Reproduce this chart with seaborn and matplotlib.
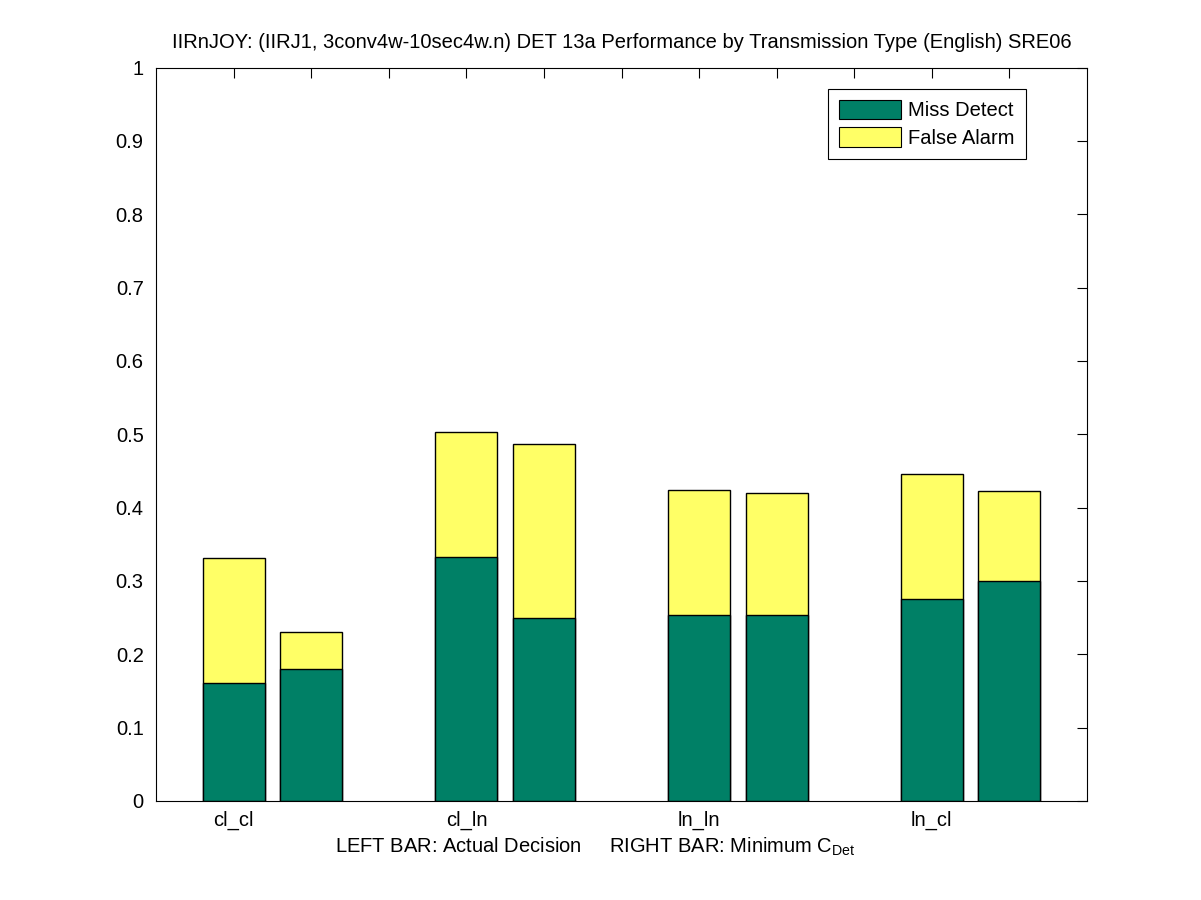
import numpy as np
import pandas as pd
import seaborn as sns
import matplotlib
matplotlib.use("Agg")
import matplotlib.pyplot as plt
from matplotlib.patches import Patch

# 伝送タイプごとの値 (左: Actual Decision, 右: Minimum C_Det)
categories = ["cl_cl", "cl_ln", "ln_ln", "ln_cl"]
miss_actual = [0.161, 0.332, 0.253, 0.275]
miss_min = [0.180, 0.249, 0.253, 0.300]
fa_actual = [0.170, 0.171, 0.171, 0.171]
fa_min = [0.051, 0.238, 0.167, 0.122]

GREEN = "#008066"
YELLOW = "#FFFF66"
FS = 14.5

sns.set_style("white")
plt.rcParams['font.family'] = ['Liberation Sans', 'DejaVu Sans']
plt.rcParams['mathtext.fontset'] = 'custom'
plt.rcParams['mathtext.rm'] = 'Liberation Sans'
plt.rcParams['text.color'] = 'black'

rows = []
for i, cat in enumerate(categories):
    base = 3 * i + 1
    rows.append([base, cat, miss_actual[i], fa_actual[i]])
    rows.append([base + 1, cat, miss_min[i], fa_min[i]])
df = pd.DataFrame(rows, columns=["pos", "Type", "Miss", "FA"])
df["Total"] = df["Miss"] + df["FA"]

fig = plt.figure(figsize=(12.01, 9), dpi=100)
ax = fig.add_axes([0.13, 0.11, 0.775, 0.815])

sns.barplot(x="pos", y="Total", data=df, native_scale=True, width=0.8,
            color=YELLOW, saturation=1, edgecolor="black", linewidth=1, ax=ax)
sns.barplot(x="pos", y="Miss", data=df, native_scale=True, width=0.8,
            color=GREEN, saturation=1, edgecolor="black", linewidth=1, ax=ax)

ax.set_xlim(0, 12)
ax.set_ylim(0, 1)
ax.set_axisbelow(True)

ticks = np.arange(1, 12)
labels = [""] * 11
for i, cat in enumerate(categories):
    labels[3 * i] = cat
ax.set_xticks(ticks)
ax.set_xticklabels(labels)
ax.set_yticks(np.arange(0, 1.01, 0.1))
ax.set_yticklabels(["0"] + [f"{v:.1f}" for v in np.arange(0.1, 0.95, 0.1)] + ["1"])
ax.tick_params(direction="in", length=7, width=0.8, top=True, right=True,
               labelsize=FS, colors="black")
ax.tick_params(axis="x", pad=7)
ax.tick_params(axis="y", pad=9)

for s in ax.spines.values():
    s.set_visible(True)
    s.set_color("black")
    s.set_linewidth(0.8)

ax.set_xlabel(r"LEFT BAR: Actual Decision     RIGHT BAR: Minimum C$_{\mathrm{Det}}$",
              fontsize=FS, color="black")
ax.xaxis.set_label_coords(0.472, -0.062, transform=ax.transAxes)
ax.xaxis.label.set_va("center")
ax.set_ylabel("")
ax.set_title("IIRnJOY: (IIRJ1, 3conv4w-10sec4w.n) DET 13a Performance by Transmission Type (English) SRE06",
             fontsize=FS, pad=14, color="black")

handles = [Patch(facecolor=GREEN, edgecolor="black", linewidth=0.8, label="Miss Detect"),
           Patch(facecolor=YELLOW, edgecolor="black", linewidth=0.8, label="False Alarm")]
leg = ax.legend(handles=handles, loc="upper right", bbox_to_anchor=(0.9345, 0.971),
                fontsize=FS, fancybox=False, framealpha=1, edgecolor="black",
                handlelength=3.1, handleheight=1.1, borderaxespad=0, labelspacing=0.35,
                borderpad=0.55, handletextpad=0.35)
leg.get_frame().set_linewidth(0.8)
for t in leg.get_texts():
    t.set_color("black")

fig.savefig("out.png", dpi=100, facecolor="white")
